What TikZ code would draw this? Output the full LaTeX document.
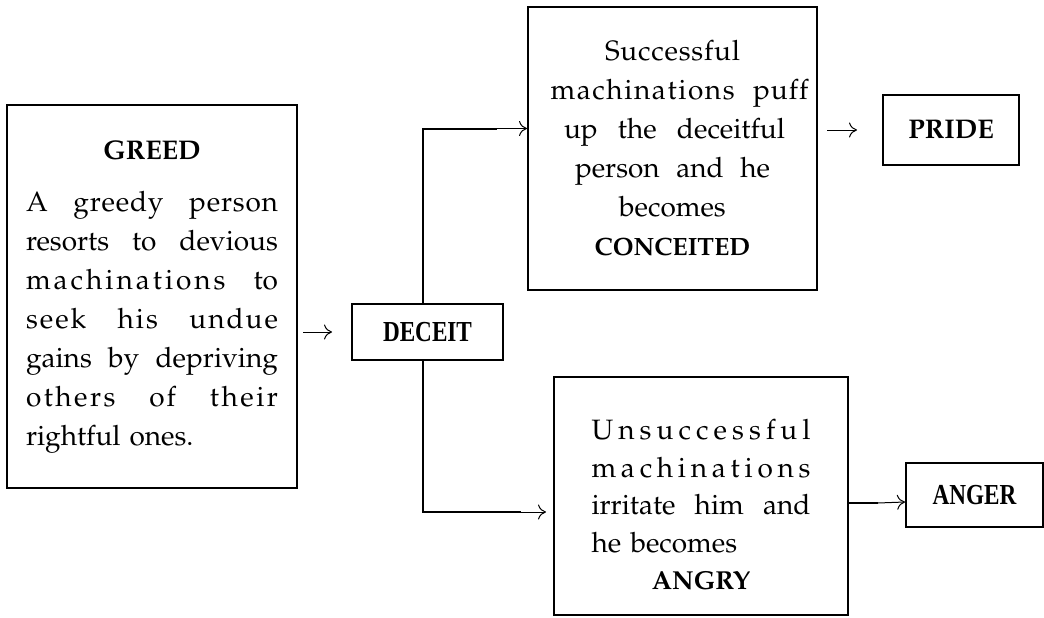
\documentclass[tikz,border=0pt]{standalone}
\usepackage[T1]{fontenc}
\usepackage{fontspec}
\usepackage{graphicx}
\newfontfamily\tms{Liberation Serif}
\newcommand\pal{\fontencoding{T1}\fontfamily{ppl}\selectfont}
\newcommand\fitline[2]{\leavevmode\hbox to #1pt{#2}}
\usetikzlibrary{arrows.meta,calc}
\begin{document}
\begin{tikzpicture}[x=1pt,y=-1pt,
  box/.style={draw, line width=2pt, inner sep=0pt},
  conn/.style={line width=2pt},
  arr/.style={-{To[length=8pt,width=15pt]}, line width=1pt},
  bodyfont/.style={font=\pal\fontsize{28}{39}\selectfont},
  sans/.style={font=\tms\bfseries\fontsize{29}{30}\selectfont}]
\useasboundingbox (0,0) rectangle (1044,618);

\node[box, bodyfont, minimum width=290pt, minimum height=383pt, text width=252pt, align=left] (greed) at (152,296.5)
 {\makebox[252pt][c]{\fontsize{27}{39}\selectfont\bfseries GREED}\\[13pt]
  \fitline{252}{A\hfil g\hskip.8pt r\hskip.8pt e\hskip.8pt e\hskip.8pt d\hskip.8pt y\hfil p\hskip.8pt e\hskip.8pt r\hskip.8pt s\hskip.8pt o\hskip.8pt n}\\
  \fitline{252}{resorts\hfil to\hfil devious}\\
  \fitline{252}{m\hskip3pt a\hskip3pt c\hskip3pt h\hskip3pt i\hskip3pt n\hskip3pt a\hskip3pt t\hskip3pt i\hskip3pt o\hskip3pt n\hskip3pt s\hfil to}\\
  \fitline{252}{s\hskip2pt e\hskip2pt e\hskip2pt k\hfil h\hskip2pt i\hskip2pt s\hfil u\hskip2pt n\hskip2pt d\hskip2pt u\hskip2pt e}\\
  \fitline{252}{gains\hfil by\hfil depriving}\\
  \fitline{252}{o\hskip2.5pt t\hskip2.5pt h\hskip2.5pt e\hskip2.5pt r\hskip2.5pt s\hfil o\hskip2pt f\hfil t\hskip2.5pt h\hskip2.5pt e\hskip2.5pt i\hskip2.5pt r}\\
  rightful\hskip9pt ones.};

\node[box, sans, minimum width=151pt, minimum height=56pt] (deceit) at (427.5,332) {\scalebox{0.8}[1]{DECEIT}};

\node[box, bodyfont, minimum width=289pt, minimum height=283pt, align=center] (succ) at (672.5,148.5)
 {\fitline{135}{S\hfil u\hfil c\hfil c\hfil e\hfil s\hfil s\hfil f\hfil u\hfil l}\\
  \fitline{272}{\hskip14pt m\hskip1.6pt a\hskip1.6pt c\hskip1.6pt h\hskip1.6pt i\hskip1.6pt n\hskip1.6pt a\hskip1.6pt t\hskip1.6pt i\hskip1.6pt o\hskip1.6pt n\hskip1.6pt s\hfil p\hskip1pt u\hskip1pt f\hskip1pt f}\\
  \fitline{225}{\hskip4pt up\hfil the\hfil deceitful}\\
  \fitline{195}{person\hfil and\hfil he}\\
  becomes\\
  {\fontsize{25}{39}\selectfont\bfseries CONCEITED}};

\node[box, font=\pal\bfseries\fontsize{27}{30}\selectfont, minimum width=136pt, minimum height=70pt] (pride) at (951,130) {PRIDE};

\node[box, font=\pal\fontsize{28}{37.5}\selectfont, minimum width=294pt, minimum height=238pt, text width=219pt, align=left] (angry) at (701,496)
 {\fitline{219}{\vrule height 38pt width 0pt U\hfil n\hfil s\hfil u\hfil c\hfil c\hfil e\hfil s\hfil s\hfil f\hfil u\hfil l}\\
  \fitline{219}{m\hfil a\hfil c\hfil h\hfil i\hfil n\hfil a\hfil t\hfil i\hfil o\hfil n\hfil s}\\
  \fitline{219}{irritate\hfil him\hfil and}\\
  he becomes\\
  \makebox[219pt][c]{\fontsize{26}{37.5}\selectfont\bfseries ANGRY}};

\node[box, sans, minimum width=137pt, minimum height=64pt] (anger) at (974.5,495) {\scalebox{0.8}[1]{ANGER}};

% free arrows
\draw[arr, shorten <=5pt, shorten >=19pt] (greed.east |- deceit.west) -- (deceit.west);
\draw[arr, shorten <=9pt, shorten >=25pt] (succ.east |- pride.west) -- (pride.west);

% top branch
\coordinate (t1) at ([xshift=-30pt,yshift=20pt]succ.west);
\draw[conn] ([xshift=-4.5pt]deceit.north) |- (t1);
\draw[arr] (t1) -- ([yshift=20pt]succ.west);

% bottom branch
\coordinate (t2) at ([xshift=-32pt,yshift=-16pt]angry.west);
\draw[conn] ([xshift=-4.5pt]deceit.south) |- (t2);
\draw[arr, shorten >=7pt] (t2) -- ([yshift=-16pt]angry.west);

% to anger
\coordinate (t3) at ([xshift=29pt,yshift=-7pt]angry.east);
\draw[conn] ([yshift=-7pt]angry.east) -- (t3);
\draw[arr] (t3) -- ([yshift=-7pt]anger.west);
\end{tikzpicture}
\end{document}
